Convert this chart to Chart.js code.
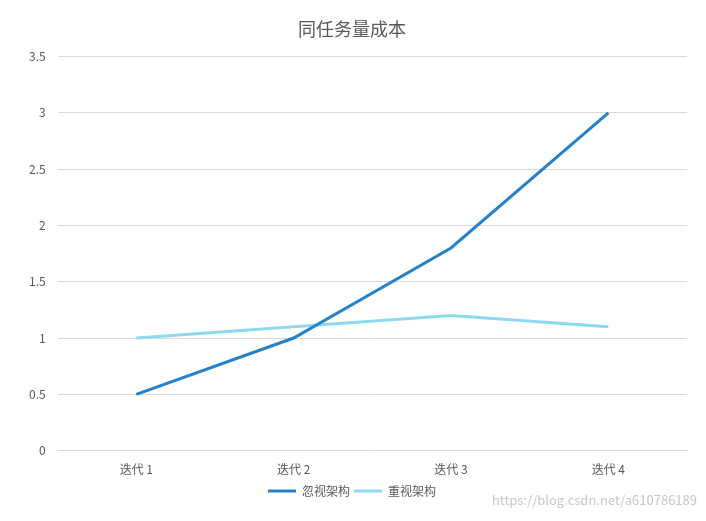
<!DOCTYPE html>
<html>
<head>
<meta charset="utf-8">
<script src="https://cdn.jsdelivr.net/npm/chart.js@4/dist/chart.umd.min.js"></script>
<style>
  body { margin: 0; background: #fff; }
  #wrap { position: relative; width: 706px; height: 521px; }
  #mark { position: absolute; right: 9px; bottom: 12px; font: 13px "Noto Sans CJK SC", sans-serif; color: #c8c8c8; }
</style>
</head>
<body>
<div id="wrap">
  <canvas id="myChart" width="706" height="521"></canvas>
  <div id="mark">https://blog.csdn.net/a610786189</div>
</div>
<script>
const categories = ['迭代 1', '迭代 2', '迭代 3', '迭代 4'];
const ignoreArch = [0.5, 1, 1.8, 3];
const valueArch = [1, 1.1, 1.2, 1.1];

const font = '"Noto Sans CJK SC", sans-serif';

const ctx = document.getElementById('myChart').getContext('2d');
const myChart = new Chart(ctx, {
    type: 'line',
    data: {
        labels: categories,
        datasets: [{
            label: '忽视架构',
            data: ignoreArch,
            borderColor: '#2581c8',
            borderWidth: 3,
            pointRadius: 0,
            fill: false,
        }, {
            label: '重视架构',
            data: valueArch,
            borderColor: '#8ed8f4',
            borderWidth: 3,
            pointRadius: 0,
            fill: false,
        }]
    },
    options: {
        responsive: false,
        animation: false,
        layout: { padding: { left: 17, right: 19, top: 10, bottom: 14 } },
        plugins: {
            title: {
                display: true,
                text: '同任务量成本',
                color: '#595959',
                font: { family: font, size: 18, weight: 'normal' },
                padding: { top: 8, bottom: 17 }
            },
            legend: {
                position: 'bottom',
                labels: {
                    color: '#595959',
                    font: { family: font, size: 12 },
                    boxWidth: 28,
                    boxHeight: 0,
                    padding: 4
                }
            }
        },
        scales: {
            x: {
                offset: true,
                grid: { display: false },
                border: { color: '#d9d9d9' },
                ticks: { color: '#595959', font: { family: font, size: 12 }, padding: 4 }
            },
            y: {
                min: 0,
                max: 3.5,
                ticks: {
                    stepSize: 0.5, color: '#595959', font: { family: font, size: 12 }, padding: 12,
                    callback: (v) => String(v)
                },
                grid: { color: '#d9d9d9', drawTicks: false },
                border: { display: false }
            }
        }
    }
});
</script>
</body>
</html>
